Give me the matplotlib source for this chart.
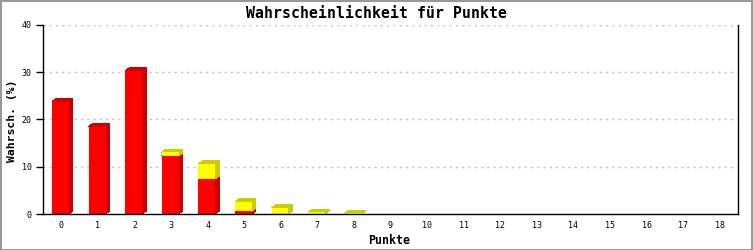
import matplotlib
matplotlib.use('Agg')
import matplotlib.pyplot as plt
from matplotlib.patches import Polygon, Rectangle
import numpy as np

# Punkte 0..18, Wahrscheinlichkeit in %
punkte = list(range(19))
rot = [23.8, 18.5, 30.3, 12.3, 7.4, 0.6, 0, 0, 0, 0, 0, 0, 0, 0, 0, 0, 0, 0, 0]
gelb = [0, 0, 0, 0.8, 3.2, 2.0, 1.3, 0.4, 0.15, 0, 0, 0, 0, 0, 0, 0, 0, 0, 0]

mono = 'DejaVu Sans Mono'

fig = plt.figure(figsize=(7.53, 2.5), dpi=100)
ax = fig.add_axes([43 / 753, 36 / 250, 695 / 753, 189 / 250])

ax.set_xlim(-0.5, 18.5)
ax.set_ylim(0, 40)

# 3D-Versatz der Balken
dx = 0.11
dy = 0.64
links = -0.25
breite = 0.46


def balken(x, unten, hoehe, front, dunkel):
    x0 = x + links
    x1 = x0 + breite
    oben = unten + hoehe
    # Seite
    ax.add_patch(Polygon([(x1, unten), (x1 + dx, unten + dy), (x1 + dx, oben + dy), (x1, oben)],
                         closed=True, facecolor=dunkel, edgecolor='none', zorder=3,
                         antialiased=False))
    # Deckel
    ax.add_patch(Polygon([(x0, oben), (x1, oben), (x1 + dx, oben + dy), (x0 + dx, oben + dy)],
                         closed=True, facecolor=dunkel, edgecolor='none', zorder=3,
                         antialiased=False))
    # Vorderseite
    ax.add_patch(Rectangle((x0, unten), breite, hoehe, facecolor=front, edgecolor='none',
                           zorder=3, antialiased=False))


for p, r, g in zip(punkte, rot, gelb):
    if r > 0:
        balken(p, 0, r, '#ff0000', '#cc0000')
    if g > 0:
        balken(p, r, g, '#ffff00', '#cccc00')

ax.set_xticks(punkte)
ax.set_xticklabels([str(p) for p in punkte], fontfamily=mono, fontsize=6)
ax.set_yticks([0, 10, 20, 30, 40])
ax.set_yticklabels(['0', '10', '20', '30', '40'], fontfamily=mono, fontsize=6)
ax.tick_params(axis='x', length=0, pad=5)
ax.tick_params(axis='y', length=5, width=1, pad=3, direction='out')

for y in [10, 20, 30, 40]:
    ax.axhline(y, color='#c0c0c0', linewidth=1, dashes=(1.5, 3), zorder=1)

ax.spines['top'].set_visible(False)
for s in ['left', 'bottom', 'right']:
    ax.spines[s].set_linewidth(1)
    ax.spines[s].set_color('black')
    ax.spines[s].set_zorder(4)

fig.text(376 / 753, 1 - 13 / 250, 'Wahrscheinlichkeit für Punkte', ha='center', va='center',
         fontfamily=mono, fontweight='bold', fontsize=10.7)
fig.text(12 / 753, 1 - 121 / 250, 'Wahrsch. (%)', ha='center', va='center', rotation=90,
         fontfamily=mono, fontweight='bold', fontsize=8.2)
fig.text(389 / 753, 1 - 240 / 250, 'Punkte', ha='center', va='center',
         fontfamily=mono, fontweight='bold', fontsize=8.4)

# grauer Rahmen
fig.patches.append(Rectangle((0.001, 0.002), 0.998, 0.996, transform=fig.transFigure,
                             fill=False, edgecolor='#999999', linewidth=1.5))

fig.savefig('out.png', dpi=100)
